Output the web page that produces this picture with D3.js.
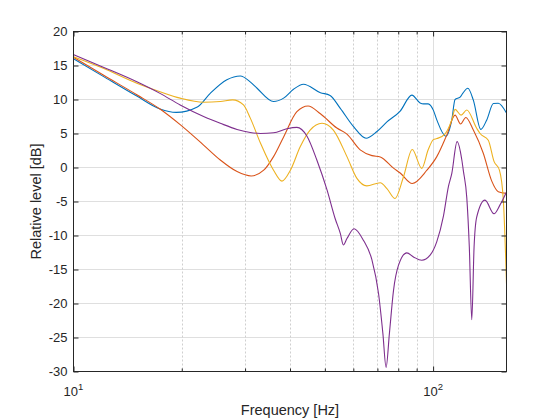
<!DOCTYPE html>
<html>
<head>
<meta charset="utf-8">
<script src="https://cdn.jsdelivr.net/npm/d3@7"></script>
<style>
  html, body { margin: 0; padding: 0; background: #fff; }
  svg { display: block; font-family: "Liberation Sans", Arial, Helvetica, sans-serif; }
</style>
</head>
<body>
<script>
// ---------- data ----------
const blueFreq  = [10, 12.1, 15, 17.4, 19.3, 22.1, 24, 26.7, 29.1, 31, 32.4, 36, 38.4, 40.9, 43.6, 48.6, 51.7, 55.2, 60.1, 65.1, 69.8, 74.4, 81, 87.3, 92, 94, 96.9, 100.2, 102.4, 108.5, 112.7, 115.1, 118.9, 120.9, 124.9, 129.4, 135.7, 141, 147.1, 151.8, 160];
const blueLevel = [16.0, 13.4, 10.5, 8.6, 8.1, 8.9, 10.9, 12.9, 13.45, 12.6, 11.65, 9.7, 10.2, 11.5, 12.25, 11.0, 10.6, 8.7, 6.0, 4.3, 5.3, 6.7, 8.3, 10.65, 9.5, 9.35, 9.35, 8.4, 7.0, 4.6, 7.0, 10.0, 10.35, 10.9, 11.65, 9.9, 5.6, 7.0, 9.4, 9.45, 8.0];

const orangeFreq  = [10, 12.1, 15, 17.4, 19.8, 23, 25.6, 28.5, 31.2, 33.8, 36, 38.4, 41.8, 44.9, 48.6, 54, 57.6, 62.7, 67.6, 71.3, 77.6, 81, 87.5, 96.1, 102.4, 109.2, 115.1, 119.2, 123.3, 129.4, 137.9, 145.6, 151.8, 160];
const orangeLevel = [16.2, 13.6, 10.7, 8.6, 6.3, 3.3, 1.1, -0.6, -1.25, -0.4, 1.6, 4.5, 8.2, 9.05, 7.9, 5.8, 4.9, 2.6, 1.75, 1.55, -0.1, -0.8, -2.35, -0.4, 1.6, 4.8, 7.7, 6.4, 7.35, 5.5, 2.1, -2.0, -3.55, -3.8];

const yellowFreq  = [10, 12.1, 15, 17.4, 19.8, 23, 25.6, 27.7, 29.7, 31, 33.1, 36, 38, 40.1, 42.7, 45.5, 49.1, 52.8, 57.6, 61.4, 65.4, 71.3, 74.4, 78.4, 82.7, 87.5, 93, 96.9, 100.2, 102.4, 108, 112.7, 115.1, 119.6, 124.1, 132.2, 135.1, 142.4, 147.7, 152.9, 156.8, 160];
const yellowLevel = [16.3, 14.6, 12.4, 11.15, 10.2, 9.6, 9.7, 9.95, 9.2, 7.3, 3.6, -0.4, -2.0, -0.4, 3.05, 5.5, 6.5, 5.5, 1.6, -1.6, -2.7, -2.25, -3.1, -4.55, -1.4, 2.65, -0.13, 2.6, 4.1, 4.25, 4.95, 7.0, 8.55, 7.7, 8.45, 5.76, 5.0, 4.0, 0.9, -0.38, -4.8, -17.1];

const purpleFreq  = [10, 12.1, 15, 17.4, 19.8, 23, 25.6, 28.5, 31, 33.1, 36, 39.2, 41.8, 44.6, 47.5, 50.7, 53.4, 55.2, 56.3, 57.6, 60.3, 64, 67.6, 70.5, 72.5, 74, 75.6, 77.6, 80.1, 84.5, 88.2, 93, 98.1, 102.4, 106.8, 110.3, 112.7, 116.6, 120.2, 121.4, 124.1, 126.1, 128.1, 130, 132.2, 139.4, 147.7, 153.5, 160];
const purpleLevel = [16.6, 14.75, 12.6, 10.9, 9.2, 7.5, 6.5, 5.6, 5.15, 5.0, 5.1, 5.7, 5.9, 4.6, 1.1, -3.3, -7.5, -9.7, -11.4, -10.45, -9.0, -10.7, -13.6, -18.5, -24.4, -29.4, -24.4, -18.1, -14.4, -12.55, -13.15, -13.65, -12.9, -10.9, -7.2, -2.8, -0.9, 3.8, 1.1, -0.5, -4.5, -11.7, -22.4, -11.7, -7.3, -4.8, -6.8, -5.5, -3.6];

const yTicks = [20, 15, 10, 5, 0, -5, -10, -15, -20, -25, -30];
const xMajorTicks = [10, 100];
const xMajorExp = ["1", "2"];
const xMinorTicks = [20, 30, 40, 50, 60, 70, 80, 90];
const xLabel = "Frequency [Hz]";
const yLabel = "Relative level [dB]";

// ---------- layout ----------
const W = 560, H = 420;
const L = 73.5, R = 506.5, T = 31.5, B = 371.5;
const ink = "#262626";

const svg = d3.select("body").append("svg").attr("width", W).attr("height", H);

const x = d3.scaleLog().domain([10, 160]).range([L, R]);
const y = d3.scaleLinear().domain([-30, 20]).range([B, T]);

// grid
const grid = svg.append("g");
grid.selectAll("line.gy").data(yTicks.filter(v => v > -30 && v < 20)).join("line")
  .attr("x1", L).attr("x2", R).attr("y1", d => y(d)).attr("y2", d => y(d))
  .attr("stroke", "#dfdfdf").attr("stroke-width", 1);
grid.selectAll("line.gxm").data(xMinorTicks).join("line")
  .attr("y1", T).attr("y2", B).attr("x1", d => Math.round(x(d)) + 0.5).attr("x2", d => Math.round(x(d)) + 0.5)
  .attr("stroke", "#cfcfcf").attr("stroke-width", 1).attr("stroke-dasharray", "2,2");
grid.selectAll("line.gxM").data(xMajorTicks.filter(v => v > 10)).join("line")
  .attr("y1", T).attr("y2", B).attr("x1", d => Math.round(x(d)) + 0.5).attr("x2", d => Math.round(x(d)) + 0.5)
  .attr("stroke", "#dfdfdf").attr("stroke-width", 1);

// series
svg.append("clipPath").attr("id", "clip").append("rect")
  .attr("x", L).attr("y", T).attr("width", R - L).attr("height", B - T);

const series = [
  { f: blueFreq,   v: blueLevel,   c: "#0072BD" },
  { f: orangeFreq, v: orangeLevel, c: "#D95319" },
  { f: yellowFreq, v: yellowLevel, c: "#EDB120" },
  { f: purpleFreq, v: purpleLevel, c: "#7E2F8E" }
];
const line = d3.line().x(d => x(d[0])).y(d => y(d[1])).curve(d3.curveMonotoneX);
const lines = svg.append("g").attr("clip-path", "url(#clip)");
series.forEach(s => {
  lines.append("path")
    .datum(s.f.map((f, i) => [f, s.v[i]]))
    .attr("d", line).attr("fill", "none")
    .attr("stroke", s.c).attr("stroke-width", 1.1);
});

// axes (inward ticks)
function styleAxis(g) {
  g.select(".domain").remove();
  g.selectAll(".tick line").attr("stroke", ink);
  g.selectAll(".tick text").attr("fill", ink);
}
svg.append("g").attr("transform", `translate(${L},0)`)
  .call(d3.axisLeft(y).tickValues(yTicks).tickSize(-5).tickPadding(6).tickFormat(d => String(d)))
  .call(styleAxis)
  .call(g => g.selectAll(".tick text").attr("font-size", 13).attr("font-family", "Liberation Sans, Arial, sans-serif"));
svg.append("g").attr("transform", `translate(${R},0)`)
  .call(d3.axisRight(y).tickValues(yTicks).tickSize(-5).tickFormat(""))
  .call(styleAxis);
svg.append("g").attr("transform", `translate(0,${B})`)
  .call(d3.axisBottom(x).tickValues(xMajorTicks).tickSize(-5).tickFormat(""))
  .call(styleAxis);
svg.append("g").attr("transform", `translate(0,${B})`)
  .call(d3.axisBottom(x).tickValues(xMinorTicks).tickSize(-3).tickFormat(""))
  .call(styleAxis);
svg.append("g").attr("transform", `translate(0,${T})`)
  .call(d3.axisTop(x).tickValues(xMajorTicks).tickSize(-5).tickFormat(""))
  .call(styleAxis);
svg.append("g").attr("transform", `translate(0,${T})`)
  .call(d3.axisTop(x).tickValues(xMinorTicks).tickSize(-3).tickFormat(""))
  .call(styleAxis);

// x tick labels 10^n
const xl = svg.append("g").attr("fill", ink).attr("font-size", 13);
xMajorTicks.forEach((t, i) => {
  const tx = xl.append("text").attr("x", x(t)).attr("y", 395.5).attr("text-anchor", "middle");
  tx.append("tspan").text("10");
  tx.append("tspan").attr("dy", -6).attr("font-size", 9.5).text(xMajorExp[i]);
});

// box
svg.append("rect").attr("x", L).attr("y", T).attr("width", R - L).attr("height", B - T)
  .attr("fill", "none").attr("stroke", ink).attr("stroke-width", 1);

// axis labels
svg.append("text").attr("x", (L + R) / 2).attr("y", 415).attr("text-anchor", "middle")
  .attr("font-size", 14.5).attr("fill", ink).text(xLabel);
svg.append("text").attr("transform", `translate(41,${(T + B) / 2}) rotate(-90)`).attr("text-anchor", "middle")
  .attr("font-size", 14.5).attr("fill", ink).text(yLabel);
</script>
</body>
</html>
